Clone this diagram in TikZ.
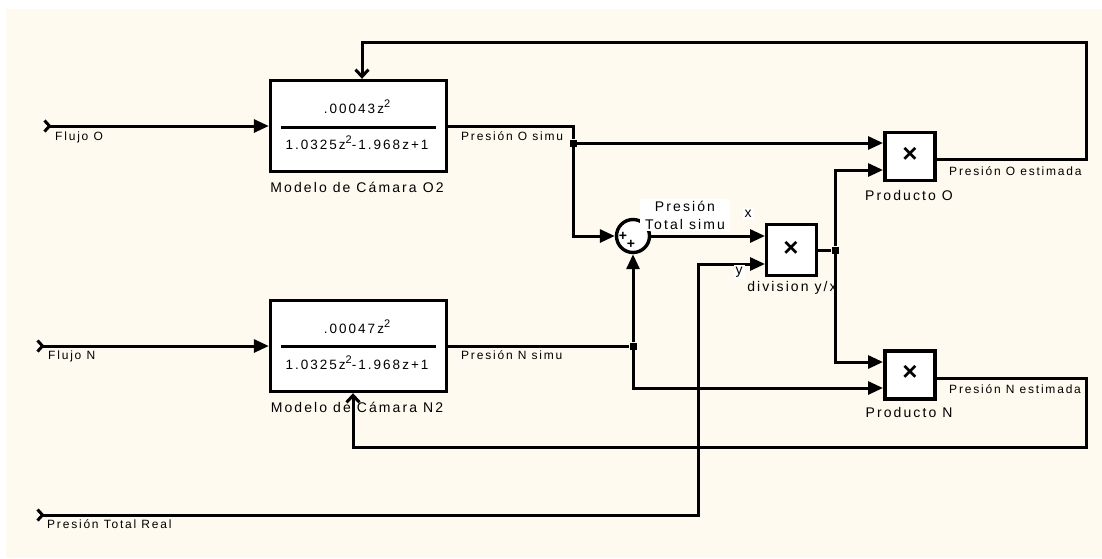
\documentclass[tikz,border=0pt]{standalone}
\usepackage{fontspec}
\setmainfont{Liberation Sans}
\newfontfamily\simfont[LetterSpace=15]{Liberation Sans}
\usetikzlibrary{arrows.meta,calc}
\definecolor{paper}{RGB}{255,250,240}
\newcommand{\sqz}{\raisebox{0.42em}{\fontsize{11}{11}\selectfont 2}}
\tikzset{
  >={Triangle[length=15pt,width=13pt]},
  blk/.style={draw,line width=3.4pt,fill=white,inner sep=0pt},
  jn/.style={fill,minimum size=7pt,inner sep=0pt},
  sig/.style={line width=3pt},
  src/.style={line width=3pt,{Straight Barb[reversed,length=5pt,width=11pt]}->},
  fb/.style={line width=3pt,-{Straight Barb[length=7pt,width=13pt]}},
  lbl/.style={font=\simfont\fontsize{12}{13}\selectfont,inner sep=0pt},
  blkname/.style={font=\simfont\fontsize{14}{16}\selectfont,inner sep=0pt},
  frc/.style={font=\simfont\fontsize{13.5}{15}\selectfont,inner sep=0pt},
  mul/.style={font=\bfseries\fontsize{26}{26}\selectfont,inner sep=0pt},
  pl/.style={font=\bfseries\fontsize{14}{14}\selectfont,inner sep=0pt},
  wbg/.style={fill=white,inner sep=2pt},
}
\begin{document}
\begin{tikzpicture}[x=1pt,y=-1pt]
\useasboundingbox (0,0) rectangle (1102,558);
\fill[paper] (6,9) rectangle (1102,558);
% blocks
\node[blk,minimum width=176pt,minimum height=91pt] (mO) at (358.5,126) {};
\node[blk,minimum width=176pt,minimum height=91pt] (mN) at (358.5,346) {};
\node[blk,circle,minimum size=33pt] (sm) at (633,236) {};
\node[blk,minimum width=50pt,minimum height=51pt] (dv) at (791.5,250) {};
\node[blk,minimum width=50pt,minimum height=48pt] (pO) at (910,156.5) {};
\node[blk,minimum width=50pt,minimum height=48pt] (pN) at (910,375) {};
% block contents
\node[frc] (nO) at (357,107) {.00043z\sqz};
\node[frc] (dO) at (357,143) {1.0325z\sqz-1.968z+1};
\draw[sig] ($(mO.center)+(-78,1)$) -- ++(155,0);
\node[frc] (nN) at (357,327) {.00047z\sqz};
\node[frc] (dN) at (357,363) {1.0325z\sqz-1.968z+1};
\draw[sig] ($(mN.center)+(-78,0)$) -- ++(155,0);
\node[mul] (xD) at (791,249) {×}; \node[mul] (xO) at (910,155) {×}; \node[mul] (xN) at (910,373) {×};
\node[pl] (p1) at (623,236) {+}; \node[pl] (p2) at (631,244) {+};
% ports and junctions
\coordinate (fO) at (43,126); \coordinate (fN) at (36,346); \coordinate (fT) at (36,515);
\coordinate (dvx) at (765,236); \coordinate (dvy) at (765,264);
\coordinate (pOa) at (883,143); \coordinate (pOb) at (883,170);
\coordinate (pNa) at (883,362); \coordinate (pNb) at (883,388);
\node[jn] (jO) at (573,143) {}; \node[jn] (jN) at (633,346) {}; \node[jn] (jD) at (835,250) {};
% signals
\draw[src] (fO) -- (mO.west); \draw[src] (fN) -- (mN.west);
\draw[src] (fT) -| ($(dvy)+(-67,0)$) -- (dvy);
\draw[sig] (mO.east) -| (jO); \draw[sig,->] (jO) -- (pOa); \draw[sig,->] (jO) |- (sm.west);
\draw[sig] (mN.east) -- (jN); \draw[sig,->] (jN) -- (sm.south); \draw[sig,->] (jN) |- (pNb);
\draw[sig,->] (sm.east) -- (dvx);
\draw[sig] (dv.east) -- (jD); \draw[sig,->] (jD) |- (pOb); \draw[sig,->] (jD) |- (pNa);
\draw[fb] ([yshift=-3pt]pO.east) -| (1086,42) -| ([xshift=3.5pt]mO.north);
\draw[fb] ([yshift=-3pt]pN.east) -| (1086,447) -| ([xshift=-5.5pt]mN.south);
% labels
\node[lbl,anchor=west] (tfO) at (55,137) {Flujo O};
\node[lbl,anchor=west] (tfN) at (48,356) {Flujo N};
\node[lbl,anchor=west] (tfT) at (47,524) {Presión Total Real};
\node[lbl,anchor=west] (tsO) at (461,136) {Presión O simu};
\node[lbl,anchor=west] (tsN) at (461,355) {Presión N simu};
\node[lbl,anchor=west] (teO) at (949,171) {Presión O estimada};
\node[lbl,anchor=west] (teN) at (949,389) {Presión N estimada};
\node[blkname] (cO) at (357,187) {Modelo de Cámara O2};
\node[blkname] (cN) at (357,407) {Modelo de Cámara N2};
\node[blkname] (cpO) at (909,195) {Producto O};
\node[blkname] (cpN) at (909,412) {Producto N};
\node[blkname] (cD) at (792,288) {division y/x};
\node[blkname,wbg,align=center,minimum width=90pt] (tsT) at (685,215) {Presión\\[2pt]Total simu};
\node[blkname,wbg] (tx) at (748,214) {x};
\node[blkname,wbg] (ty) at (739,272) {y};
\end{tikzpicture}
\end{document}
